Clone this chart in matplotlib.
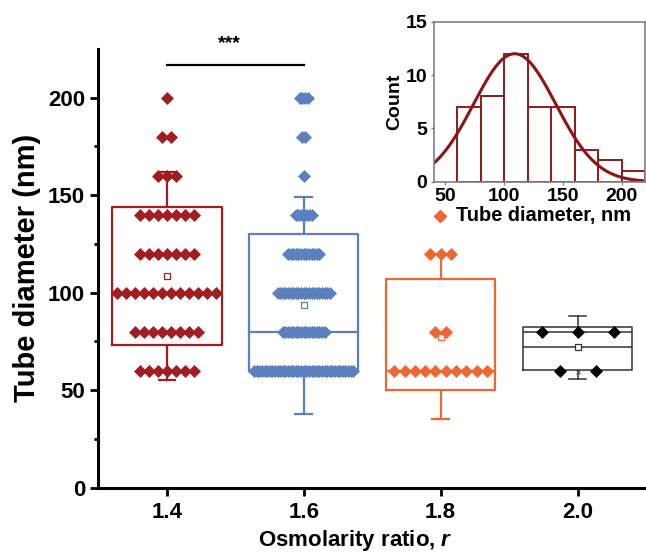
import numpy as np
import matplotlib
matplotlib.use('Agg')
import matplotlib.pyplot as plt
from matplotlib.lines import Line2D

plt.rcParams['font.family'] = ['Liberation Sans', 'DejaVu Sans']
plt.rcParams['font.weight'] = 'bold'
plt.rcParams['mathtext.fontset'] = 'custom'
plt.rcParams['mathtext.it'] = 'Liberation Sans:bold:italic'
plt.rcParams['mathtext.rm'] = 'Liberation Sans:bold'

# osmolarity ratios
r_values = [1.4, 1.6, 1.8, 2.0]

# diameter levels (nm) and how many tubes sit on each level
levels_14 = [60, 80, 100, 120, 140, 160, 180, 200]
counts_14 = [7, 8, 12, 7, 7, 3, 2, 1]
levels_16 = [60, 80, 100, 120, 140, 160, 180, 200]
counts_16 = [39, 17, 21, 13, 7, 1, 2, 4]
levels_18 = [60, 80, 120]
counts_18 = [10, 2, 3]
levels_20 = [60, 80]
counts_20 = [2, 3]

# box statistics: q1, median, q3, whisker low/high, mean
q1 = [73.3, 60, 50, 60.5]
med = [100, 80, 60, 80]
q3 = [144.2, 130, 107, 82.5]
whislo = [55, 38, 35, 55.5]
whishi = [162, 149, 120, 88]
means = [108.5, 93.5, 77.5, 72]
min_20 = 59.3

# gaussian fit on the r = 1.4 histogram (inset)
fit_center = 109
fit_sigma = 35
fit_amp = 12.0
hist_bins = [60, 80, 100, 120, 140, 160, 180, 200, 220]

colors = ['#A11D21', '#5B80BD', '#EE6633', '#000000']
spacing = [0.0131, 0.0038, 0.015, 0.0526]

fig = plt.figure(figsize=(6.46, 5.53), dpi=100)
ax = fig.add_axes([0.1522, 0.1181, 0.8478, 0.7933])

stats = []
for i in range(4):
    stats.append(dict(q1=q1[i], med=med[i], q3=q3[i], whislo=whislo[i],
                      whishi=whishi[i], mean=means[i]))

for i, st in enumerate(stats):
    c = colors[i]
    lw = 1.1 if i == 3 else 1.6
    ec = '#333333' if i == 3 else c
    ax.bxp([st], positions=[r_values[i]], widths=0.16, capwidths=0.024,
           showfliers=False, showmeans=True,
           boxprops=dict(color=ec, lw=lw),
           medianprops=dict(color=ec, lw=lw),
           whiskerprops=dict(color=ec, lw=lw),
           capprops=dict(color=ec, lw=lw),
           meanprops=dict(marker='s', mfc='white', mec=ec, ms=4, mew=0.9),
           manage_ticks=False, zorder=2)

# extra mean line in the r = 2.0 box
ax.hlines(means[3], r_values[3] - 0.08, r_values[3] + 0.08, color='#333333', lw=1.1, zorder=2)
ax.plot([r_values[3]], [min_20], marker='x', color='#555555', ms=3.5, mew=0.8, zorder=3)

groups = [(levels_14, counts_14), (levels_16, counts_16),
          (levels_18, counts_18), (levels_20, counts_20)]
for i, (lev, cnt) in enumerate(groups):
    xs, ys = [], []
    for v, n in zip(lev, cnt):
        offs = (np.arange(n) - (n - 1) / 2) * spacing[i]
        xs.extend(r_values[i] + offs)
        ys.extend([v] * n)
    ax.plot(xs, ys, ls='none', marker='D', ms=6.4, color=colors[i],
            mec=colors[i], mew=0.5, zorder=4)

# significance bar
ax.plot([r_values[0], r_values[1]], [217, 217], color='black', lw=1.6, clip_on=False)
ax.text((r_values[0] + r_values[1]) / 2 - 0.008, 228, '***', ha='center', va='center',
        fontsize=14, fontweight='bold', clip_on=False)

ax.set_xlim(1.3, 2.1)
ax.set_ylim(0, 225)
ax.set_xticks(r_values)
ax.set_xticklabels(['1.4', '1.6', '1.8', '2.0'])
ax.set_yticks([0, 50, 100, 150, 200])
ax.set_yticks([25, 75, 125, 175], minor=True)
for s in ['top', 'right']:
    ax.spines[s].set_visible(False)
for s in ['left', 'bottom']:
    ax.spines[s].set_linewidth(2.2)
ax.tick_params(axis='both', which='major', direction='out', length=5.5, width=2,
               labelsize=16)
ax.tick_params(axis='y', which='major', pad=4)
ax.tick_params(axis='x', which='major', pad=5)
ax.tick_params(axis='y', which='minor', direction='out', length=3, width=2)
for lab in ax.get_xticklabels() + ax.get_yticklabels():
    lab.set_fontweight('bold')

ax.set_ylabel('Tube diameter (nm)', fontsize=21, fontweight='bold')
ax.set_xlabel('Osmolarity ratio, $r$', fontsize=16, fontweight='bold')
ax.yaxis.set_label_coords(-0.104, 0.5)
ax.xaxis.set_label_coords(0.47, -0.091)

# inset histogram
axi = fig.add_axes([0.6712, 0.6714, 0.3274, 0.2893])
data_14 = np.repeat(levels_14, counts_14)
axi.hist(data_14, bins=hist_bins, facecolor='white', edgecolor='#8E1B1B', lw=1.4)
xf = np.linspace(40, 220, 300)
axi.plot(xf, fit_amp * np.exp(-0.5 * ((xf - fit_center) / fit_sigma) ** 2),
         color='#8B1414', lw=2.2)
axi.set_xlim(40, 220)
axi.set_ylim(0, 15)
axi.set_xticks([50, 100, 150, 200])
axi.set_yticks([0, 5, 10, 15])
for s in axi.spines.values():
    s.set_color('#808080')
    s.set_linewidth(1.2)
axi.tick_params(axis='both', direction='out', length=2.5, width=1, color='#808080',
                labelsize=14, pad=2)
for lab in axi.get_xticklabels() + axi.get_yticklabels():
    lab.set_fontweight('bold')
axi.set_ylabel('Count', fontsize=14, fontweight='bold', labelpad=2)

# legend entry under the inset
fig.add_artist(Line2D([440 / 646], [1 - 216 / 553], transform=fig.transFigure,
                      marker='D', ms=6.5, color=colors[2], ls='none'))
fig.text(456 / 646, 1 - 216 / 553, 'Tube diameter, nm', ha='left', va='center',
         fontsize=14.4, fontweight='bold')

fig.savefig('out.png', dpi=100)
